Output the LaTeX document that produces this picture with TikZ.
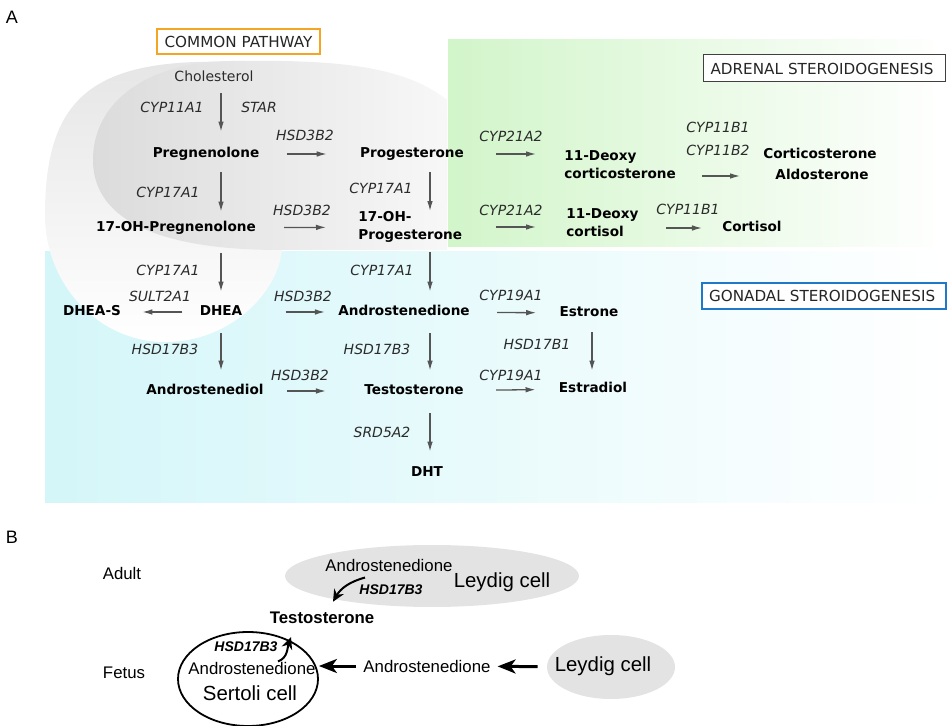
\documentclass[tikz,border=0pt]{standalone}
\usepackage{fontspec}
\setmainfont{DejaVu Sans}
\newfontfamily\arialfont{Liberation Sans}
\usepackage{xcolor}
\usepackage{tikz}
\usetikzlibrary{arrows.meta,shapes.geometric}

\definecolor{arrowgray}{HTML}{555555}
\definecolor{enzgray}{HTML}{2B2B2B}
\definecolor{adrgreen}{RGB}{210,245,202}
\definecolor{gonblue}{RGB}{212,246,249}
\definecolor{boxorange}{HTML}{F5A524}
\definecolor{boxblue}{HTML}{1F78C8}
\definecolor{cellgray}{HTML}{E3E3E3}

\tikzset{
  cmpd/.style={font=\fontsize{6.8}{9}\selectfont\bfseries, inner sep=0pt, text height=5pt, text depth=1.4pt},
  cmpd2/.style={font=\fontsize{6.8}{9}\selectfont\bfseries, inner sep=0pt, align=left, anchor=west},
  enz/.style={font=\fontsize{7}{9}\selectfont\itshape, text=enzgray, inner sep=0pt},
  flow/.style={draw=arrowgray, line width=0.65pt, -{Latex[length=5pt,width=2.8pt]}},
  pathbox/.style={draw, fill=white, font=\fontsize{7.6}{9}\selectfont, text=black!85, inner sep=0pt},
  panel/.style={font=\arialfont\fontsize{9}{11}\selectfont},
  txtB/.style={font=\arialfont\fontsize{8.4}{10}\selectfont},
  cellB/.style={font=\arialfont\fontsize{10.2}{12}\selectfont, inner sep=0pt},
  hsdB/.style={font=\arialfont\fontsize{7}{9}\selectfont\bfseries\itshape, inner sep=0pt},
  push/.style={line width=1.5pt, -{Stealth[length=9pt,width=7pt,inset=2.5pt]}},
  curvy/.style={line width=1pt, -{Stealth[length=6pt,width=5.5pt]}}
}

\begin{document}
\begin{tikzpicture}[x=0.5pt,y=-0.5pt]
	\useasboundingbox (0,0) rectangle (947,726);

	% shaded areas
	\shade[left color=gonblue, right color=white] (45,252) rectangle (947,503);
	\shade[top color=gray!20, bottom color=white] (447,118) .. controls (400,82) and (320,64) .. (230,62)
		.. controls (90,58) and (45,100) .. (45,215) .. controls (45,285) and (99,342) .. (165,342)
		.. controls (231,342) and (278,292) .. (282,250) -- (447,250) -- cycle;
	\shade[left color=gray!28, right color=gray!6] (447,100) .. controls (400,62) and (320,60) .. (230,61)
		.. controls (150,62) and (93,100) .. (93,160) .. controls (93,225) and (170,250) .. (280,250)
		-- (447,250) -- cycle;
	\shade[left color=adrgreen, right color=white] (448,40) rectangle (947,247);

	\node[panel] (labA) at (12,17) {A};
	\node[pathbox, draw=boxorange, line width=1pt, minimum width=81.5pt, minimum height=12.5pt] (common) at (238.5,41.5) {COMMON PATHWAY};
	\node[pathbox, draw=black!75, line width=0.5pt, anchor=west, minimum height=13.5pt, text width=114pt, inner xsep=3.5pt, align=left] (adrenal) at (703,68.5) {ADRENAL STEROIDOGENESIS};
	\node[pathbox, draw=boxblue, line width=1pt, anchor=west, minimum height=13pt, text width=115pt, inner xsep=3.5pt, align=left] (gonadal) at (701,296) {GONADAL STEROIDOGENESIS};

	\coordinate (c1) at (221,0);
	\coordinate (c2) at (430,0);
	\coordinate (c3) at (592,0);

	\node[font=\fontsize{7}{9}\selectfont, text=enzgray, inner sep=0pt, text height=5pt, text depth=1.4pt] (chol) at (214,78) {Cholesterol};
	\node[cmpd] (preg) at (206,154) {Pregnenolone};
	\node[cmpd] (prog) at (412,154) {Progesterone};
	\node[cmpd] (ohpreg) at (176,228) {17-OH-Pregnenolone};
	\node[cmpd2] (ohprog) at (358,227) {17-OH-\\Progesterone};
	\node[cmpd2] (doc) at (564,164.5) {11-Deoxy\\corticosterone};
	\node[cmpd] (cortico) at (820,155) {Corticosterone};
	\node[cmpd] (aldo) at (822,176) {Aldosterone};
	\node[cmpd2] (dcort) at (566,222.5) {11-Deoxy\\cortisol};
	\node[cmpd] (cortisol) at (752,228) {Cortisol};
	\node[cmpd] (dheas) at (92,312) {DHEA-S};
	\node[cmpd] (dhea) at (221,312) {DHEA};
	\node[cmpd] (andro) at (404,312) {Androstenedione};
	\node[cmpd] (estrone) at (589,313) {Estrone};
	\node[cmpd] (adiol) at (205,391) {Androstenediol};
	\node[cmpd] (testo) at (414,391) {Testosterone};
	\node[cmpd] (estradiol) at (593,389) {Estradiol};
	\node[cmpd] (dht) at (427,473) {DHT};

	\node[enz] (cyp11a1) at (172,107) {CYP11A1};
	\node[enz] (star) at (259,107) {STAR};
	\node[enz] (hsdA) at (305,135) {HSD3B2};
	\node[enz] (cyp17A) at (168,192) {CYP17A1};
	\node[enz] (cyp17B) at (381,188) {CYP17A1};
	\node[enz] (hsdB) at (302,210) {HSD3B2};
	\node[enz] (cyp21A) at (511,136) {CYP21A2};
	\node[enz] (cyp11b1A) at (718,127) {CYP11B1};
	\node[enz] (cyp11b2) at (718,150) {CYP11B2};
	\node[enz] (cyp21B) at (511,210) {CYP21A2};
	\node[enz] (cyp11b1B) at (688,209) {CYP11B1};
	\node[enz] (cyp17C) at (168,270) {CYP17A1};
	\node[enz] (cyp17D) at (382,270) {CYP17A1};
	\node[enz] (sult) at (160,296) {SULT2A1};
	\node[enz] (hsdC) at (303,296) {HSD3B2};
	\node[enz] (cyp19A) at (511,295) {CYP19A1};
	\node[enz] (hsd17A) at (165,349) {HSD17B3};
	\node[enz] (hsd17B) at (377,349) {HSD17B3};
	\node[enz] (hsd17b1) at (537,344) {HSD17B1};
	\node[enz] (hsdD) at (300,375) {HSD3B2};
	\node[enz] (cyp19B) at (511,375) {CYP19A1};
	\node[enz] (srd) at (382,432) {SRD5A2};

	\draw [flow, shorten <=4.3pt, shorten >=7.8pt] (chol.south -| c1) -- (preg.north -| c1);
	\draw [flow, shorten <=5.8pt, shorten >=4.8pt] (preg.south -| c1) -- (ohpreg.north -| c1);
	\draw [flow, shorten <=5.8pt] (prog.south -| c2) -- (ohprog.north -| c2);
	\draw [flow, shorten <=9.3pt, shorten >=6.8pt] (ohpreg.south -| c1) -- (dhea.north -| c1);
	\draw [flow, shorten <=4.7pt, shorten >=6.8pt] (ohprog.south -| c2) -- (andro.north -| c2);
	\draw [flow, shorten <=7.3pt, shorten >=6.8pt] (dhea.south -| c1) -- (adiol.north -| c1);
	\draw [flow, shorten <=7.3pt, shorten >=6.8pt] (andro.south -| c2) -- (testo.north -| c2);
	\draw [flow, shorten <=7.8pt, shorten >=7.3pt] (testo.south -| c2) -- (dht.north -| c2);
	\draw [flow, shorten <=6.3pt, shorten >=5.8pt] (estrone.south -| c3) -- (estradiol.north -| c3);

	\draw [flow, shorten <=13.5pt, shorten >=16.5pt] (preg) -- (prog);
	\draw [flow, shorten <=14pt, shorten >=16pt] (ohpreg) -- (ohprog);
	\draw [flow, shorten <=8.5pt, shorten >=10.5pt] (dhea) -- (dheas);
	\draw [flow, shorten <=21.5pt, shorten >=6.5pt] (dhea) -- (andro);
	\draw [flow, shorten <=11.5pt, shorten >=19pt] (adiol) -- (testo);
	\draw [flow, shorten <=16pt, shorten >=14pt] (prog.east) -- (prog.east -| doc.west);
	\draw [flow, shorten <=16.5pt, shorten >=15pt] (ohprog.east) -- (ohprog.east -| dcort.west);
	\draw [flow, shorten <=13.5pt, shorten >=11.5pt] (andro) -- (estrone);
	\draw [flow, shorten <=16pt, shorten >=11.5pt] (testo) -- (estradiol);
	\draw [flow, shorten <=13pt, shorten >=17.5pt] (doc.east |- aldo) -- (aldo);
	\draw [flow, shorten <=13.5pt, shorten >=10pt] (dcort.east |- cortisol) -- (cortisol);

	\node[panel] (labB) at (12,537) {B};
	\node[txtB] (adult) at (122,573) {Adult};
	\node[txtB] (fetus) at (124,673) {Fetus};
	\node[ellipse, fill=cellgray, minimum width=147pt, minimum height=31pt, inner sep=0pt] (leydigA) at (432,576) {};
	\node[txtB, inner sep=0pt] (andtop) at (389,565) {Androstenedione};
	\node[hsdB] (hsdtop) at (391,590) {HSD17B3};
	\node[cellB] (leyA) at (502,582) {Leydig cell};
	\node[txtB, font=\arialfont\fontsize{8.4}{10}\selectfont\bfseries, inner sep=0pt] (testB) at (322,618) {Testosterone};
	\node[ellipse, draw, line width=0.9pt, minimum width=70pt, minimum height=47pt, inner sep=0pt] (sertoli) at (248,679) {};
	\node[hsdB] (hsdin) at (246,647) {HSD17B3};
	\node[txtB, inner sep=0pt] (andin) at (252,668) {Androstenedione};
	\node[cellB] (sertxt) at (250,693) {Sertoli cell};
	\node[txtB] (andmid) at (427,666) {Androstenedione};
	\node[ellipse, fill=cellgray, minimum width=64pt, minimum height=32pt, inner sep=0pt] (leydigF) at (611,667) {};
	\node[cellB] (leyF) at (603,666) {Leydig cell};
	\coordinate (tipF) at (291,637);

	\draw [curvy] ([xshift=-12pt,yshift=-3pt]andtop.south) to[out=195,in=60] ([xshift=5.5pt,yshift=5pt]testB.north);
	\draw [curvy] ([xshift=13pt]andin.north) to[out=20,in=-110] (tipF);
	\draw [push] (andmid.west) -- (andmid.west -| sertoli.east);
	\draw [push, shorten <=4.5pt] (leydigF) -- (andmid);
\end{tikzpicture}
\end{document}
